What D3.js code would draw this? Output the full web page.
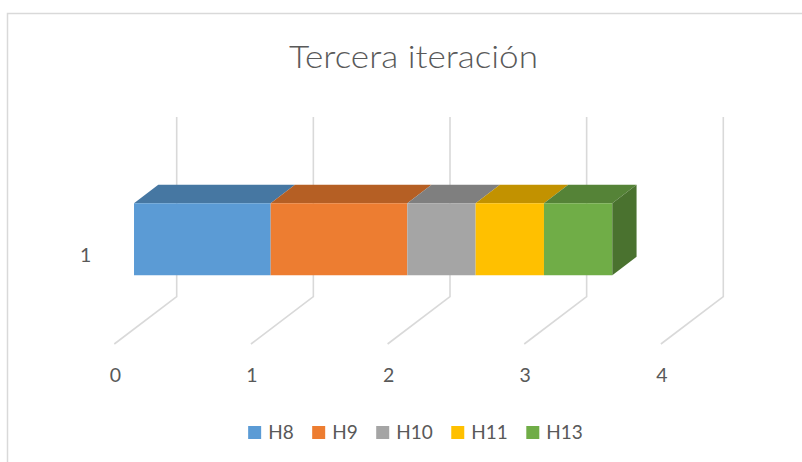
<!DOCTYPE html>
<html>
<head>
<meta charset="utf-8">
<script src="https://cdn.jsdelivr.net/npm/d3@7"></script>
<style>
  html, body { margin: 0; padding: 0; background: #fff; }
  svg { display: block; }
  text { font-family: Lato, "Open Sans", sans-serif; fill: #595959; }
</style>
</head>
<body>
<svg id="chart" width="802" height="462"></svg>
<script>
const title = "Tercera iteración";
const categories = ["1"];
const seriesNames = ["H8", "H9", "H10", "H11", "H13"];
const seriesValues = [1, 1, 0.5, 0.5, 0.5];
const tickValues = [0, 1, 2, 3, 4];
const frontColors = ["#5b9bd5", "#ed7d31", "#a5a5a5", "#ffc000", "#70ad47"];
const topColors = ["#4677a2", "#b55f24", "#7f7f7f", "#c29200", "#558337"];
const sideColors = ["#3e6890", "#9c5220", "#6e6e6e", "#a87f00", "#4a722f"];

const svg = d3.select("#chart");

// chart area border
svg.append("rect")
  .attr("x", 7.5).attr("y", 13.5)
  .attr("width", 820).attr("height", 470)
  .attr("fill", "#fff").attr("stroke", "#d9d9d9").attr("stroke-width", 1.5);

// title
svg.append("text")
  .attr("x", 413.5).attr("y", 67.5)
  .attr("text-anchor", "middle")
  .attr("font-size", 30.5)
  .attr("font-weight", 300)
  .attr("textLength", 249).attr("lengthAdjust", "spacingAndGlyphs")
  .text(title);

// oblique 3D projection
const x = d3.scaleLinear().domain([0, 4]).range([176.7, 723.3]);
const y = d3.scaleBand().domain(categories).range([117, 296.7]).paddingInner(0.6).paddingOuter(0.3);
const depthX = -62.4, depthY = 47.3;
const wallTop = 117, floorY = 296.7;
const dBack = 0.295, dFront = 0.684;
const P = (v, sy, d) => [x(v) + depthX * d, sy + depthY * d];

const grid = svg.append("g").attr("fill", "none").attr("stroke", "#d9d9d9").attr("stroke-width", 1.6);
tickValues.forEach(t => {
  const a = P(t, wallTop, 0), b = P(t, floorY, 0), c = P(t, floorY, 1);
  grid.append("path").attr("d", d3.line()([a, b, c]));
});

// tick labels (front edge of floor)
svg.append("g").selectAll("text").data(tickValues).join("text")
  .attr("x", d => P(d, floorY, 1)[0] + 1)
  .attr("y", 381.5)
  .attr("text-anchor", "middle")
  .attr("font-size", 19.5)
  .text(d => d);

// category labels
svg.append("g").selectAll("text").data(categories).join("text")
  .attr("x", P(0, 0, 1)[0] - 23)
  .attr("y", d => y(d) + y.bandwidth() / 2 + depthY + 8)
  .attr("text-anchor", "end")
  .attr("font-size", 19.5)
  .text(d => d);

// stacked segments
const stacked = [];
let acc = 0;
seriesValues.forEach((v, i) => { stacked.push({ name: seriesNames[i], v0: acc, v1: acc + v, i }); acc += v; });

const bars = svg.append("g");
categories.forEach(cat => {
  const yt = y(cat), yb = y(cat) + y.bandwidth();
  stacked.forEach((s, k) => {
    const poly = pts => d3.line()(pts) + "Z";
    bars.append("path").attr("fill", topColors[s.i])
      .attr("d", poly([P(s.v0, yt, dFront), P(s.v1, yt, dFront), P(s.v1, yt, dBack), P(s.v0, yt, dBack)]));
    bars.append("path").attr("fill", frontColors[s.i])
      .attr("d", poly([P(s.v0, yt, dFront), P(s.v1, yt, dFront), P(s.v1, yb, dFront), P(s.v0, yb, dFront)]));
    if (k === stacked.length - 1) {
      bars.append("path").attr("fill", sideColors[s.i])
        .attr("d", poly([P(s.v1, yt, dFront), P(s.v1, yt, dBack), P(s.v1, yb, dBack), P(s.v1, yb, dFront)]));
    }
  });
});

// legend
const legend = svg.append("g");
let lx = 0;
const items = [];
seriesNames.forEach((n, i) => {
  const g = legend.append("g");
  g.append("rect").attr("x", 0).attr("y", -13).attr("width", 13).attr("height", 13).attr("fill", frontColors[i]);
  const t = g.append("text").attr("x", 20).attr("y", 0).attr("font-size", 19).text(n);
  const w = 20 + t.node().getComputedTextLength();
  items.push({ g, w });
});
const gap = 18.5;
const total = d3.sum(items, d => d.w) + gap * (items.length - 1);
lx = 415.5 - total / 2;
items.forEach(it => { it.g.attr("transform", `translate(${lx},439)`); lx += it.w + gap; });
</script>
</body>
</html>
